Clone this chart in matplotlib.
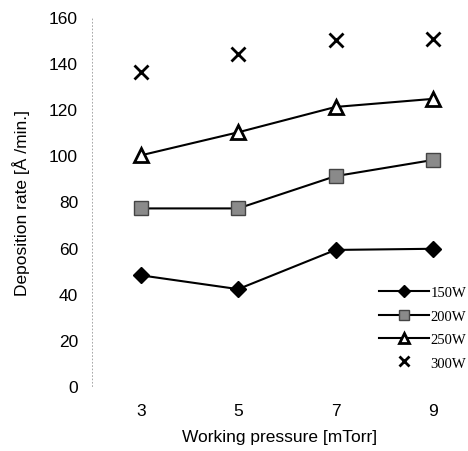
import matplotlib
matplotlib.use("Agg")
import matplotlib.pyplot as plt

# working pressure (mTorr) and deposition rate (A/min) per RF power
pressure = [3, 5, 7, 9]
rate_150w = [48, 42, 59, 59.5]
rate_200w = [77, 77, 91, 98]
rate_250w = [100, 110, 121, 124.5]
rate_300w = [136, 144, 150, 150.5]

plt.rcParams['font.family'] = ['Liberation Sans', 'DejaVu Sans']

fig = plt.figure(figsize=(4.68, 4.52), dpi=100)
ax = fig.add_axes([92 / 468, 1 - 387 / 452, 376 / 468, 369 / 452])

ax.plot(pressure, rate_150w, 'k-', lw=1.5, marker='D', ms=8.5, mfc='black', mec='black', label='150W')
ax.plot(pressure, rate_200w, 'k-', lw=1.5, marker='s', ms=10, mfc='#8a8a8a', mec='#444444', mew=1, label='200W')
ax.plot(pressure, rate_250w, 'k-', lw=1.5, marker='^', ms=10, mfc='white', mec='black', mew=2, label='250W')
ax.plot(pressure, rate_300w, ls='none', marker='x', ms=10, mec='black', mew=2, label='300W')

ax.set_xlim(2, 9.72)
ax.set_ylim(0, 160)
ax.set_xticks(pressure)
ax.set_yticks(range(0, 161, 20))
ax.tick_params(axis='both', length=0, labelsize=12.5, pad=12)
ax.tick_params(axis='y', pad=10)

for s in ['top', 'right', 'bottom']:
    ax.spines[s].set_visible(False)
ax.spines['left'].set_linestyle((0, (1, 3)))
ax.spines['left'].set_linewidth(0.6)
ax.spines['left'].set_color('#999999')

ax.set_xlabel('Working pressure [mTorr]', fontsize=12.5, labelpad=8)
ax.set_ylabel('Deposition rate [Å /min.]', fontsize=12.5, labelpad=14)

leg = ax.legend(loc='lower right', bbox_to_anchor=(1.03, 0.009), frameon=False,
                prop={'family': 'Liberation Serif', 'size': 10.5},
                handlelength=3.4, handletextpad=0.1, labelspacing=0.7,
                markerscale=0.75)

fig.savefig('out.png', dpi=100)
